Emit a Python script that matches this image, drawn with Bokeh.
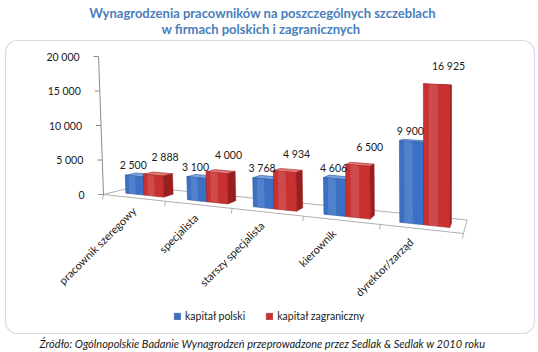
import numpy as np
from bokeh.plotting import figure
from bokeh.models import Range1d, BoxAnnotation, Legend, LegendItem
from bokeh.core.properties import value
from bokeh.embed import file_html
from bokeh.resources import INLINE

# ---------------- data ----------------
title_lines = ["Wynagrodzenia pracowników na poszczególnych szczeblach",
               "w firmach  polskich i zagranicznych"]
categories = ["pracownik szeregowy", "specjalista", "starszy specjalista",
              "kierownik", "dyrektor/zarząd"]
kapital_polski = [2500, 3100, 3768, 4606, 9900]
kapital_zagraniczny = [2888, 4000, 4934, 6500, 16925]
series_names = ["kapitał polski", "kapitał zagraniczny"]
y_ticks = [0, 5000, 10000, 15000, 20000]
source_text = "Źródło: Ogólnopolskie Badanie Wynagrodzeń przeprowadzone przez Sedlak & Sedlak w 2010 roku"

FONT = "Lato"
W, H = 538, 352
CX = 262  # horizontal centre of title / source


def fmt(v):
    return f"{v:,}".replace(",", " ")


# ---------------- 3D projection (perspective floor + heights) ----------------
n = len(categories)
X0, Y0 = 103.0, 194.0           # front-left floor corner (screen px)
AU, CU, GU = 56.7, 0.11, -0.033  # category direction
GD = 0.09                        # depth perspective
VPX, VPY = 503.0, 94.0           # vanishing point of depth lines
HM = np.array([[AU, GD * VPX, X0],
               [CU, GD * VPY, Y0],
               [GU, GD, 1.0]])
K_AXIS = 138.0 / 20000.0   # px per value unit on the value axis
K_BAR = K_AXIS * 1.06      # bars stand on the floor closer to the viewer
VX, VY = 440.0, 9600.0     # vanishing point of verticals


def P(u, d, h, k=K_BAR):
    Xh = HM @ np.array([u, d, 1.0])
    w = Xh[2]
    xb, yb = Xh[0] / w, Xh[1] / w
    yt = yb - h * k / w
    xt = VX + (xb - VX) * (VY - yt) / (VY - yb)
    return float(xt), float(yt)


p = figure(width=W, height=H, x_range=Range1d(0, W), y_range=Range1d(H, 0),
           output_backend="svg", toolbar_location=None,
           x_axis_location=None, y_axis_location=None, min_border=0,
           outline_line_color=None, background_fill_color="white",
           border_fill_color="white")
p.xgrid.visible = False
p.ygrid.visible = False

# rounded frame
box_kw = dict(left=5, right=534, top=40, bottom=333, fill_alpha=0,
              line_color="#6f8db3", line_width=1.2)
try:
    box = BoxAnnotation(border_radius=12, **box_kw)
except Exception:
    box = BoxAnnotation(**box_kw)
p.add_layout(box)

# titles
p.text(x=[CX, CX], y=[12, 28], text=title_lines, text_font=value(FONT),
       text_font_style="bold", text_font_size="13px", text_color="#4a7ebb",
       text_align="center", text_baseline="middle")

# floor
fl = [P(0, 0, 0), P(n, 0, 0), P(n, 1, 0), P(0, 1, 0)]
p.patch([q[0] for q in fl], [q[1] for q in fl], fill_color="white",
        line_color="#b0b0b0", line_width=1)
tx0, ty0, tx1, ty1 = [], [], [], []
for i in range(n + 1):
    q = P(i, 0, 0)
    tx0.append(q[0]); ty0.append(q[1]); tx1.append(q[0] - 1); ty1.append(q[1] + 5)
p.segment(tx0, ty0, tx1, ty1, line_color="#b0b0b0", line_width=1)

# y axis
a0, a1 = P(0, 0, 0, K_AXIS), P(0, 0, y_ticks[-1], K_AXIS)
p.segment([a0[0]], [a0[1]], [a1[0]], [a1[1]], line_color="#8c8c8c", line_width=1)
tk = [P(0, 0, t, K_AXIS) for t in y_ticks]
p.segment([q[0] - 5 for q in tk], [q[1] for q in tk], [q[0] for q in tk],
          [q[1] for q in tk], line_color="#8c8c8c", line_width=1)
p.text(x=[q[0] - 19 for q in tk], y=[q[1] for q in tk], text=[fmt(t) for t in y_ticks],
       text_font=value(FONT), text_font_size="10.5px", text_color="#1a1a1a",
       text_align="right", text_baseline="middle")

# bars
D0, D1 = 0.3, 0.62
series_u = [(0.2, 0.5), (0.5, 0.82)]
series_vals = [kapital_polski, kapital_zagraniczny]
label_dx = [-1, 12]
label_dy = [5, 12]
styles = [dict(front="#3b70c4", right="#27539a", top="#7aa4e2", line="#2a5799"),
          dict(front="#c93131", right="#981f1f", top="#e47a7a", line="#a32525")]
front_renderers = []
lab_x, lab_y, lab_t = [], [], []
for s, vals in enumerate(series_vals):
    a, bb = series_u[s]
    faces = {"top": ([], []), "right": ([], []), "front": ([], []), "shine": ([], [])}
    for i, v in enumerate(vals):
        u0, u1 = i + a, i + bb
        ws = u1 - u0
        polys = {
            "top": [P(u0, D0, v), P(u1, D0, v), P(u1, D1, v), P(u0, D1, v)],
            "right": [P(u1, D0, 0), P(u1, D1, 0), P(u1, D1, v), P(u1, D0, v)],
            "front": [P(u0, D0, 0), P(u1, D0, 0), P(u1, D0, v), P(u0, D0, v)],
            "shine": [P(u0 + 0.2 * ws, D0, 0), P(u0 + 0.55 * ws, D0, 0),
                      P(u0 + 0.55 * ws, D0, v), P(u0 + 0.2 * ws, D0, v)],
        }
        for k, poly in polys.items():
            faces[k][0].append([q[0] for q in poly])
            faces[k][1].append([q[1] for q in poly])
        c = P((u0 + u1) / 2, D0, v)
        lab_x.append(c[0] + label_dx[s]); lab_y.append(c[1] - label_dy[s]); lab_t.append(fmt(v))
    st = styles[s]
    for k in ["top", "right", "front"]:
        r = p.patches(faces[k][0], faces[k][1], fill_color=st[k],
                      line_color=st["line"], line_width=0.6)
        if k == "front":
            front_renderers.append(r)
    p.patches(faces["shine"][0], faces["shine"][1], fill_color="white",
              fill_alpha=0.12, line_color=None)

p.text(x=lab_x, y=lab_y, text=lab_t, text_font=value(FONT), text_font_size="10.5px",
       text_color="#1a1a1a", text_align="center", text_baseline="bottom")

# category labels
cx, cy = [], []
for i in range(n):
    q = P(i + 0.5, 0, 0)
    cx.append(q[0] - 2.5 * i); cy.append(q[1] + 11)
p.text(x=cx, y=cy, text=categories, angle=np.pi / 4, text_font=value(FONT),
       text_font_size="11px", text_color="#1a1a1a", text_align="right",
       text_baseline="middle")

# legend
legend = Legend(items=[LegendItem(label=series_names[0], renderers=[front_renderers[0]]),
                       LegendItem(label=series_names[1], renderers=[front_renderers[1]])],
                orientation="horizontal", location=(173, 30),
                glyph_width=8, glyph_height=8, label_standoff=4, spacing=20,
                padding=0, margin=0, label_height=12,
                label_text_font=FONT, label_text_font_size="10.5px",
                label_text_color="#1a1a1a",
                background_fill_alpha=0, border_line_alpha=0)
p.add_layout(legend)

# source
p.text(x=[CX], y=[343], text=[source_text], text_font=value(FONT),
       text_font_style="italic", text_font_size="11px", text_color="#1a1a1a",
       text_align="center", text_baseline="middle")

open("out.html", "w").write(file_html(p, INLINE))
